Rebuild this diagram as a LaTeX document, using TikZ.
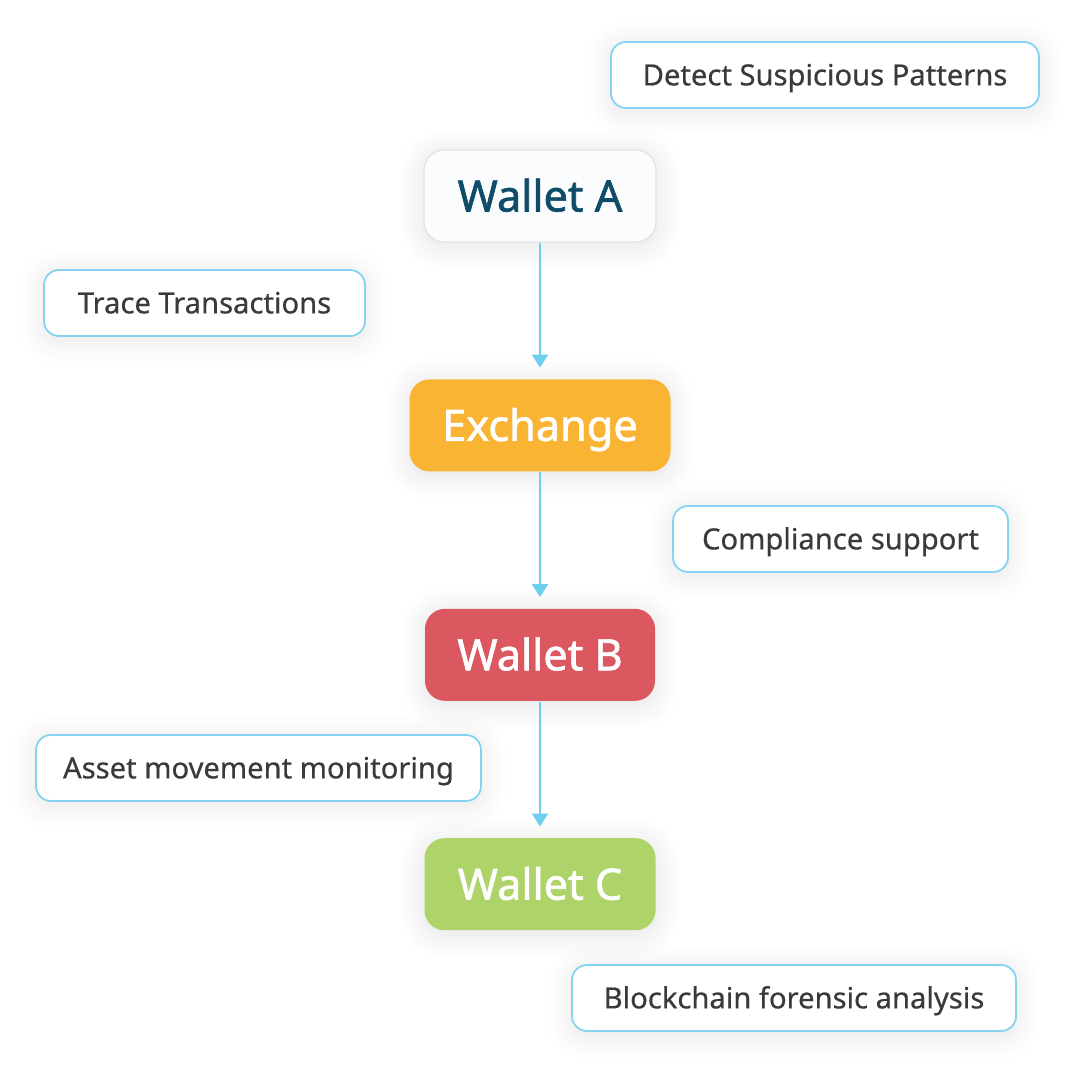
\documentclass[tikz,border=0pt]{standalone}
\usepackage{fontspec}
\setmainfont{Noto Sans}
\usetikzlibrary{positioning,arrows.meta,shadows.blur}
\definecolor{flowblue}{HTML}{6CCFEF}
\definecolor{tagblue}{HTML}{84D3F0}
\definecolor{tagtext}{HTML}{3A3A3A}
\definecolor{walletAtxt}{HTML}{0F4C68}
\definecolor{walletAbg}{HTML}{FBFCFD}
\definecolor{walletAln}{HTML}{DFE5E9}
\definecolor{exchbg}{HTML}{F9B434}
\definecolor{walletBbg}{HTML}{DC5860}
\definecolor{walletCbg}{HTML}{AED469}
\tikzset{
  step box/.style={rectangle,rounded corners=2mm,minimum height=9.2mm,inner sep=0pt,
    text height=8.8pt,text depth=0pt,
    font=\fontsize{12.3}{15}\selectfont\addfontfeatures{FakeBold=1.4},text=white,
    blur shadow={shadow blur steps=6,shadow xshift=0pt,shadow yshift=-1pt,shadow opacity=12,shadow blur radius=2.5mm}},
  tag/.style={rectangle,draw=tagblue,line width=0.5pt,fill=white,rounded corners=1.5mm,
    minimum height=6.6mm,inner sep=0pt,text height=5.9pt,text depth=0pt,
    font=\fontsize{8.3}{10}\selectfont\addfontfeatures{FakeBold=0.5},text=tagtext,
    blur shadow={shadow blur steps=6,shadow xshift=0pt,shadow yshift=-1pt,shadow opacity=10,shadow blur radius=2.5mm}},
  flow/.style={-{Triangle[length=1.3mm,width=1.6mm]},draw=flowblue,line width=0.55pt,shorten >=1.1mm},
}
\begin{document}
\begin{tikzpicture}
  \useasboundingbox (0,0) rectangle (10.8,-10.8);
  % main chain
  \node[step box,draw=walletAln,fill=walletAbg,text=walletAtxt,minimum width=23.2mm] (wA) at (5.40,-1.96) {Wallet A};
  \node[step box,fill=exchbg,minimum width=26.1mm,below=13.6mm of wA] (exch) {Exchange};
  \node[step box,fill=walletBbg,minimum width=23.0mm,below=13.6mm of exch] (wB) {Wallet B};
  \node[step box,fill=walletCbg,minimum width=23.1mm,below=13.6mm of wB] (wC) {Wallet C};
  \draw[flow] (wA) -- (exch);
  \draw[flow] (exch) -- (wB);
  \draw[flow] (wB) -- (wC);
  % side tags
  \node[tag,minimum width=42.8mm] (tDetect) at (8.25,-0.75) {Detect Suspicious Patterns};
  \node[tag,minimum width=32.1mm] (tTrace) at (2.045,-3.03) {Trace Transactions};
  \node[tag,minimum width=33.5mm] (tCompl) at (8.405,-5.39) {Compliance support};
  \node[tag,minimum width=44.5mm] (tAsset) at (2.585,-7.68) {Asset movement monitoring};
  \node[tag,minimum width=44.4mm] (tChain) at (7.94,-9.98) {Blockchain forensic analysis};
\end{tikzpicture}
\end{document}
